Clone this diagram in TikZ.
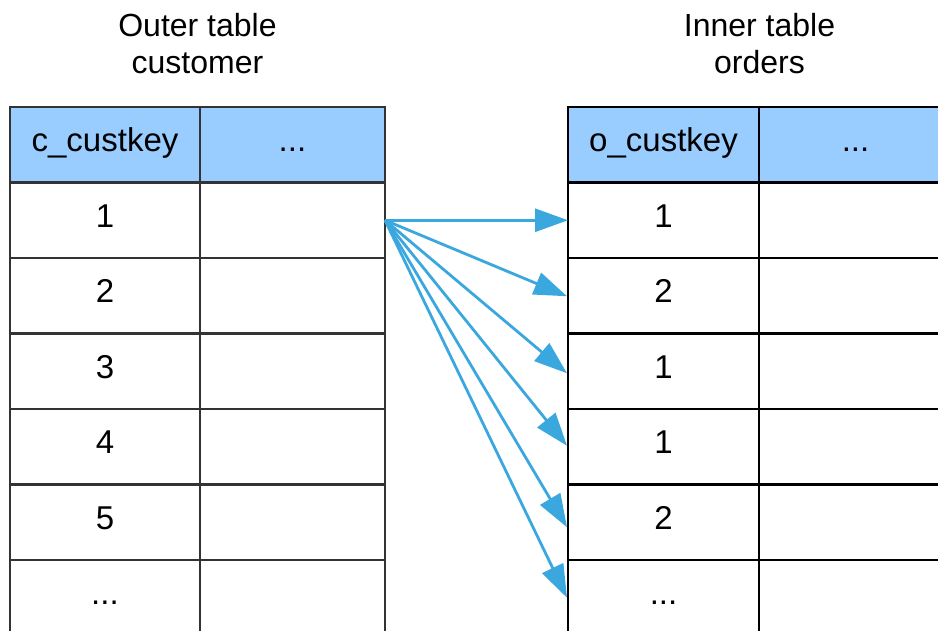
\documentclass[tikz,border=0pt]{standalone}
\usepackage{fontspec}
\setmainfont{Liberation Sans}
\usetikzlibrary{arrows.meta,calc}
\definecolor{hdr}{HTML}{99CCFF}
\definecolor{arr}{HTML}{3BA7DF}
\definecolor{lgrid}{HTML}{333333}
\begin{document}
\begin{tikzpicture}[x=1pt,y=-1pt,
  basecell/.style={rectangle, line width=2.6pt, inner sep=0pt, outer sep=0pt,
    anchor=north west, minimum height=75.5pt, text height=24pt, text depth=10pt,
    font=\fontsize{33}{38}\selectfont},
  lcell/.style={basecell, draw=lgrid},
  rcell/.style={basecell, draw=black},
  title/.style={align=center, inner sep=0pt, anchor=base, font=\fontsize{32}{36.5}\selectfont},
  link/.style={draw=arr, line width=2.8pt, -{Triangle[length=33pt,width=23pt]}}]
\useasboundingbox (0,0) rectangle (938,631);
\clip (0,0) rectangle (938,631);
% titles
\node[title] (tleft) at (197.5,73.5) {Outer table\\customer};
\node[title] (tright) at (759.5,73.5) {Inner table\\orders};
% left table
\node[lcell, minimum width=190pt, fill=hdr] (lh1) at (10,107) {c\_custkey};
\node[lcell, minimum width=185pt, fill=hdr] (lh2) at (200,107) {...};
\node[lcell, minimum width=190pt] (l1a) at (10,182.5) {1};
\node[lcell, minimum width=185pt] (l1b) at (200,182.5) {};
\node[lcell, minimum width=190pt] (l2a) at (10,258) {2};
\node[lcell, minimum width=185pt] (l2b) at (200,258) {};
\node[lcell, minimum width=190pt] (l3a) at (10,333.5) {3};
\node[lcell, minimum width=185pt] (l3b) at (200,333.5) {};
\node[lcell, minimum width=190pt] (l4a) at (10,409) {4};
\node[lcell, minimum width=185pt] (l4b) at (200,409) {};
\node[lcell, minimum width=190pt] (l5a) at (10,484.5) {5};
\node[lcell, minimum width=185pt] (l5b) at (200,484.5) {};
\node[lcell, minimum width=190pt] (l6a) at (10,560) {...};
\node[lcell, minimum width=185pt] (l6b) at (200,560) {};
% right table
\node[rcell, minimum width=191pt, fill=hdr] (rh1) at (568,107) {o\_custkey};
\node[rcell, minimum width=193pt, fill=hdr] (rh2) at (759,107) {...};
\node[rcell, minimum width=191pt] (r1a) at (568,182.5) {1};
\node[rcell, minimum width=193pt] (r1b) at (759,182.5) {};
\node[rcell, minimum width=191pt] (r2a) at (568,258) {2};
\node[rcell, minimum width=193pt] (r2b) at (759,258) {};
\node[rcell, minimum width=191pt] (r3a) at (568,333.5) {1};
\node[rcell, minimum width=193pt] (r3b) at (759,333.5) {};
\node[rcell, minimum width=191pt] (r4a) at (568,409) {1};
\node[rcell, minimum width=193pt] (r4b) at (759,409) {};
\node[rcell, minimum width=191pt] (r5a) at (568,484.5) {2};
\node[rcell, minimum width=193pt] (r5b) at (759,484.5) {};
\node[rcell, minimum width=191pt] (r6a) at (568,560) {...};
\node[rcell, minimum width=193pt] (r6b) at (759,560) {};
% arrows
\draw[link] (l1b.east) -- (r1a.west);
\draw[link] (l1b.east) -- ($(r2a.west)+(-1,0.5)$);
\draw[link] (l1b.east) -- ($(r3a.west)+(-1,2)$);
\draw[link] (l1b.east) -- ($(r4a.west)+(-1,-1)$);
\draw[link] (l1b.east) -- ($(r5a.west)+(-1,5)$);
\draw[link] (l1b.east) -- ($(r6a.west)+(-1,0)$);
\end{tikzpicture}
\end{document}
